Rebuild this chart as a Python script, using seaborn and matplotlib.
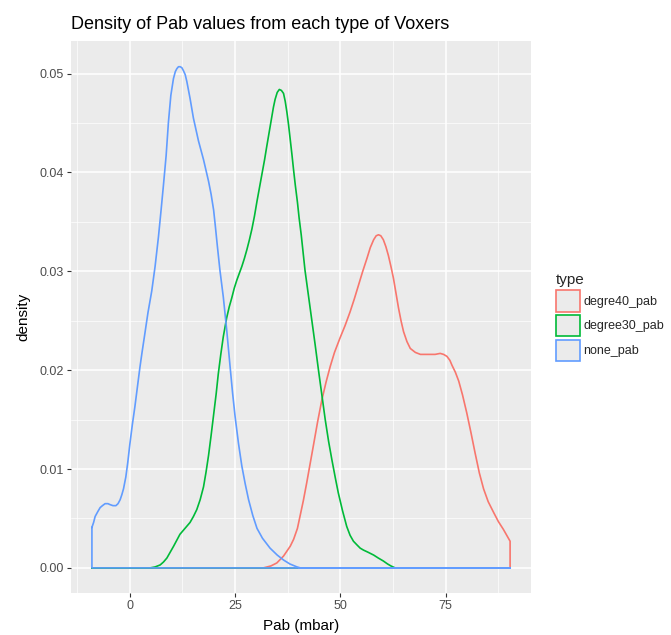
import numpy as np
import matplotlib
matplotlib.use("Agg")
import matplotlib.pyplot as plt
from matplotlib.patches import Patch
import seaborn as sns

# density curves
types = ["degre40_pab", "degree30_pab", "none_pab"]
colors = ["#F8766D", "#00BA38", "#619CFF"]

red_x = [-9.0, 31.7, 33.5, 34.9, 36.5, 38.1, 38.9, 39.8, 40.5, 41.2, 42.0, 42.8, 43.6, 44.6, 45.6, 46.6,
         47.6, 48.6, 49.95, 51.1, 52.3, 53.3, 54.3, 55.3, 56.3, 57.1, 57.9, 58.5, 59.05, 59.6, 60.2,
         60.8, 61.4, 62.0, 62.6, 63.2, 63.8, 64.4, 65.0, 65.8, 66.6, 67.8, 69.0, 70.2, 71.3, 72.5,
         73.7, 74.5, 75.3, 76.0, 76.5, 77.3, 78.1, 79.0, 80.0, 81.0, 82.0, 83.0, 84.0, 85.1, 86.4,
         87.5, 88.7, 89.5, 90.3]
red_y = [0.0, 0.0, 0.0002, 0.0005, 0.0012, 0.0022, 0.0029, 0.0040, 0.0054, 0.0068, 0.0086, 0.0105,
         0.0124, 0.0148, 0.0170, 0.0188, 0.0204, 0.0218, 0.0233, 0.0245, 0.0259, 0.0272, 0.0286,
         0.0300, 0.0313, 0.0324, 0.0332, 0.0336, 0.0337, 0.0336, 0.0332, 0.0325, 0.0316, 0.0305,
         0.0293, 0.0278, 0.0263, 0.0250, 0.0239, 0.0229, 0.0222, 0.0218, 0.0216, 0.0216, 0.0216,
         0.0216, 0.0217, 0.0216, 0.0214, 0.0210, 0.0205, 0.0198, 0.0189, 0.0175, 0.0157, 0.0137,
         0.0116, 0.0096, 0.0080, 0.0067, 0.0056, 0.0047, 0.0039, 0.0033, 0.0027]

green_x = [-9.0, 4.8, 6.0, 7.2, 8.0, 8.8, 9.6, 10.4, 11.9, 13.1, 14.3, 15.1, 15.9, 16.7, 17.5, 18.1,
           18.7, 19.3, 19.9, 20.5, 21.0, 21.6, 22.2, 23.0, 23.6, 24.2, 24.8, 25.4, 26.0, 26.6, 27.2,
           27.8, 28.4, 29.0, 29.6, 30.2, 30.8, 31.4, 32.0, 32.5, 33.1, 33.7, 34.1, 34.5, 35.0, 35.5,
           36.0, 36.5, 36.9, 37.3, 37.7, 38.1, 38.5, 38.9, 39.3, 39.8, 40.2, 40.7, 41.2, 41.6, 42.4,
           43.2, 44.0, 44.8, 45.6, 46.4, 47.2, 48.0, 48.8, 49.5, 50.5, 51.5, 52.3, 53.1, 54.0, 54.7,
           55.5, 56.5, 57.9, 59.0, 60.2, 61.2, 62.0, 63.0, 90.3]
green_y = [0.0, 0.0, 0.0001, 0.0003, 0.0006, 0.0010, 0.0016, 0.0022, 0.0034, 0.0040, 0.0046, 0.0052,
           0.0059, 0.0069, 0.0082, 0.0097, 0.0114, 0.0134, 0.0155, 0.0176, 0.0196, 0.0216, 0.0234,
           0.0253, 0.0264, 0.0273, 0.0283, 0.0291, 0.0298, 0.0305, 0.0313, 0.0322, 0.0332, 0.0343,
           0.0356, 0.0371, 0.0385, 0.0399, 0.0413, 0.0426, 0.0441, 0.0456, 0.0466, 0.0474, 0.0481,
           0.0484, 0.0483, 0.0480, 0.0472, 0.0461, 0.0448, 0.0433, 0.0418, 0.0402, 0.0387, 0.0370,
           0.0354, 0.0337, 0.0317, 0.0301, 0.0276, 0.0251, 0.0226, 0.0200, 0.0175, 0.0150, 0.0128,
           0.0109, 0.0091, 0.0076, 0.0058, 0.0042, 0.0033, 0.0027, 0.0023, 0.0020, 0.0018, 0.0016,
           0.0013, 0.0010, 0.0007, 0.0004, 0.0002, 0.0, 0.0]

blue_x = [-9.0, -8.6, -8.24, -7.6, -7.05, -6.5, -5.87, -5.2, -4.68, -4.0, -3.3, -2.8, -2.3, -1.9, -1.5,
          -0.95, -0.48, 0.0, 0.6, 1.2, 1.8, 2.4, 2.9, 3.5, 4.3, 5.2, 6.0, 6.8, 7.4, 7.98, 8.62, 9.17,
          9.74, 10.36, 10.8, 11.16, 11.55, 11.95, 12.35, 12.73, 13.15, 13.54, 14.3, 15.1, 16.3, 17.5,
          18.7, 19.3, 19.9, 20.3, 20.8, 21.4, 22.2, 23.0, 23.8, 24.4, 25.0, 25.8, 26.6, 27.4, 28.2,
          29.2, 30.2, 31.5, 33.3, 35.0, 36.5, 38.0, 39.7, 40.5, 90.3]
blue_y = [0.0041, 0.0046, 0.0052, 0.0057, 0.0061, 0.0063, 0.0065, 0.0065, 0.0064, 0.0063, 0.0063,
          0.0065, 0.0069, 0.0074, 0.0080, 0.0092, 0.0107, 0.0125, 0.0145, 0.0163, 0.0183, 0.0203,
          0.0218, 0.0235, 0.0258, 0.0280, 0.0305, 0.0335, 0.0361, 0.0387, 0.0417, 0.0451, 0.0478,
          0.0495, 0.0502, 0.0505, 0.0507, 0.0507, 0.0506, 0.0503, 0.0499, 0.0492, 0.0475, 0.0455,
          0.0432, 0.0413, 0.0391, 0.0378, 0.0362, 0.0346, 0.0325, 0.0301, 0.0274, 0.0241, 0.0204,
          0.0177, 0.0153, 0.0126, 0.0103, 0.0085, 0.0069, 0.0053, 0.0040, 0.0030, 0.0020, 0.0013,
          0.0008, 0.0004, 0.0001, 0.0, 0.0]

curves = [(red_x, red_y), (green_x, green_y), (blue_x, blue_y)]

sns.set_theme(style="darkgrid", rc={"axes.facecolor": "#EBEBEB", "grid.color": "white"})
plt.rcParams["font.family"] = ["Liberation Sans", "DejaVu Sans"]

fig = plt.figure(figsize=(6.71, 6.35), dpi=100)
ax = fig.add_axes([0.1058, 0.0661, 0.6856, 0.8693])

for (xs, ys), col in zip(curves, colors):
    # closed outline like geom_density: down the right end, back along the base
    px = list(xs) + [xs[-1], xs[0], xs[0]]
    py = list(ys) + [0.0, 0.0, ys[0]]
    sns.lineplot(x=px, y=py, sort=False, estimator=None, color=col, lw=1.2, ax=ax)

ax.set_xlim(-13.97, 95.27)
ax.set_ylim(-0.00254, 0.0533)
ax.set_xticks([0, 25, 50, 75])
ax.set_xticks([-12.5, 12.5, 37.5, 62.5, 87.5], minor=True)
ax.set_yticks([0.0, 0.01, 0.02, 0.03, 0.04, 0.05])
ax.set_yticklabels(["0.00", "0.01", "0.02", "0.03", "0.04", "0.05"])
ax.set_yticks(np.arange(0.005, 0.055, 0.01), minor=True)
ax.grid(which="major", color="white", lw=1.1)
ax.grid(which="minor", color="white", lw=0.5)
for s in ax.spines.values():
    s.set_visible(False)
ax.tick_params(axis="both", which="major", length=3, width=0.8, color="#333333",
               labelcolor="#4D4D4D", labelsize=9, pad=2, bottom=True, left=True)
ax.tick_params(axis="both", which="minor", length=0)

ax.set_xlabel("Pab (mbar)", fontsize=11, color="black", labelpad=5)
ax.set_ylabel("density", fontsize=11, color="black", labelpad=7)
ax.set_title("Density of Pab values from each type of Voxers", fontsize=13, loc="left",
             color="black", pad=9)

handles = [Patch(facecolor="#EBEBEB", edgecolor=c, lw=1.2) for c in colors]
leg = ax.legend(handles, types, title="type", loc="center left", bbox_to_anchor=(1.03, 0.5),
                frameon=False, fontsize=9, title_fontsize=11, handlelength=1.9, handleheight=2.3,
                handletextpad=0.3, labelspacing=0.25, alignment="left")

fig.savefig("out.png", dpi=100)
